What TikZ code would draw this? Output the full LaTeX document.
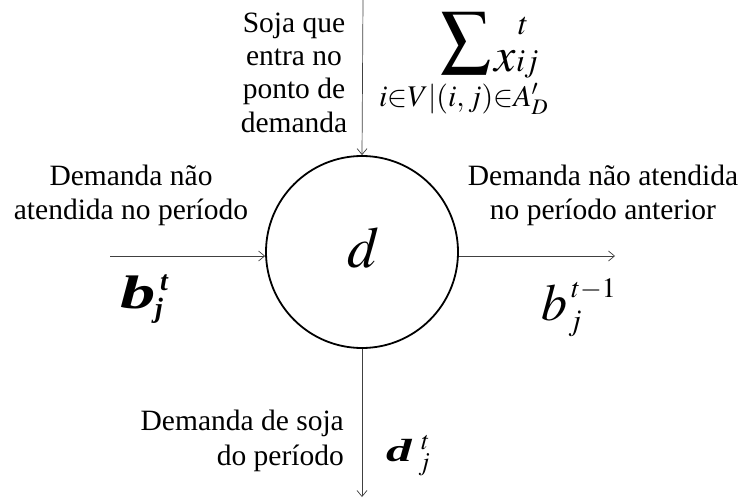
\documentclass[tikz,border=0pt]{standalone}
\usepackage{mathptmx}
\usepackage{fontspec}
\setmainfont{Liberation Serif}
\usepackage{graphicx}
\usetikzlibrary{arrows.meta}
\begin{document}
\begin{tikzpicture}[x=1pt,y=-1pt,
  lbl/.style={font=\fontsize{29.5}{34}\selectfont, inner sep=0pt, align=center, anchor=base},
  mth/.style={inner sep=0pt, anchor=base west},
  arr/.style={-{Straight Barb[length=6pt,width=10pt]}, line width=0.7pt, black!75}]
\useasboundingbox (0,0) rectangle (741,498);
% central node
\node[draw, circle, minimum size=192pt, line width=1.8pt, inner sep=0pt] (d) at (362,252) {};
\node[inner sep=0pt, anchor=base] (dl) at (364,267) {\fontsize{58}{58}\selectfont$d$};
% connectors
\coordinate (tin) at (363,0);
\draw[arr] (tin) -- (d.north);
\coordinate (lin) at (110,256);
\draw[arr] (lin) -- (lin -| d.west);
\coordinate (rout) at (615,256);
\draw[arr] (rout -| d.east) -- (rout);
\coordinate (bout) at (362,497);
\draw[arr] (d.south) -- (bout);
% texts (anchor base = baseline of the last line)
\node[lbl, font=\fontsize{29.5}{33.3}\selectfont] (ttop) at (294,132) {Soja que\\entra no\\ponto de\\demanda};
\node[lbl] (tleft) at (131,219) {Demanda não\\atendida no período};
\node[lbl] (tright) at (603,219) {Demanda não atendida\\no período anterior};
\node[lbl, anchor=base east, align=right, font=\fontsize{29.5}{35}\selectfont] (tbot) at (344,465) {Demanda de soja\\do período};
% sum
\node[inner sep=0pt, anchor=north west] (sig) at (440,12) {\resizebox*{51pt}{62pt}{$\displaystyle\sum$}};
\node[mth] (xl) at (494,71) {\fontsize{48}{48}\selectfont$x$};
\node[mth] (xt) at (518,34) {\fontsize{32}{32}\selectfont$t$};
\node[mth] (xij) at (516,71) {\fontsize{32}{32}\selectfont$i\kern-1pt j$};
\node[mth] (xsub) at (379,106) {\fontsize{30}{30}\selectfont$i{\in}V|(i,j){\in}A'_D$};
% b left
\node[mth] (bl) at (120,308) {\scalebox{1.5}[1]{\fontsize{47}{47}\selectfont\bfseries\itshape b}};
\node[mth] (blt) at (160,290) {\fontsize{28}{28}\selectfont\bfseries\itshape t};
\node[mth] (blj) at (155,317) {\fontsize{28}{28}\selectfont\bfseries\itshape j};
% b right
\node[mth] (br) at (541,320) {\fontsize{52}{52}\selectfont$b$};
\node[mth] (brt) at (571,297) {\fontsize{28}{28}\selectfont$t{-}1$};
\node[mth] (brj) at (568,330) {\fontsize{30}{30}\selectfont$j$};
% d bottom
\node[mth] (db) at (386,461) {\scalebox{1.6}[1]{\fontsize{32}{32}\selectfont\bfseries\itshape d}};
\node[mth] (dbt) at (421,449) {\fontsize{26}{26}\selectfont$t$};
\node[mth] (dbj) at (418,470) {\fontsize{26}{26}\selectfont$j$};
\end{tikzpicture}
\end{document}
